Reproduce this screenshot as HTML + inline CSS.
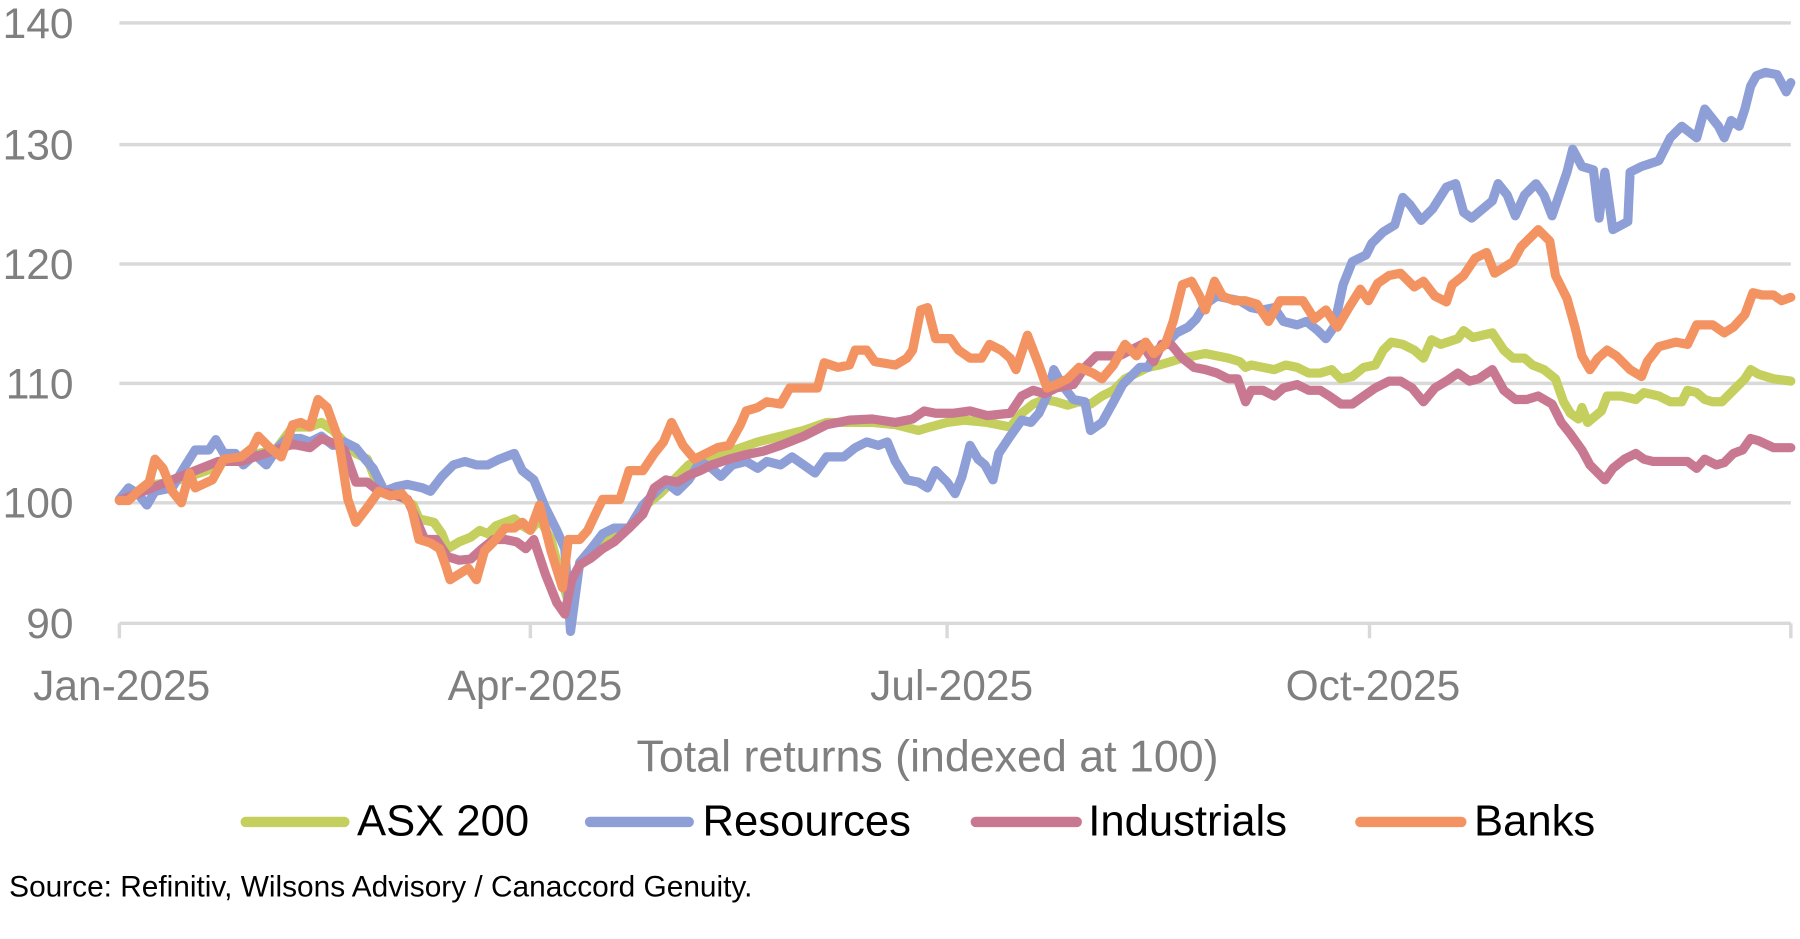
<!DOCTYPE html>
<html><head><meta charset="utf-8"><style>
html,body{margin:0;padding:0;background:#fff;}
svg{display:block;}
text{font-family:"Liberation Sans",sans-serif;}
</style></head><body>
<svg width="1800" height="939" viewBox="0 0 1568 818" preserveAspectRatio="none" xmlns="http://www.w3.org/2000/svg">
<g stroke="#d9d9d9" stroke-width="3">
<line x1="104" y1="20" x2="1560" y2="20"/>
<line x1="104" y1="126" x2="1560" y2="126"/>
<line x1="104" y1="230" x2="1560" y2="230"/>
<line x1="104" y1="334" x2="1560" y2="334"/>
<line x1="104" y1="438" x2="1560" y2="438"/>
<line x1="104" y1="543" x2="1560" y2="543"/>
<line x1="104" y1="543" x2="104" y2="556"/>
<line x1="462" y1="543" x2="462" y2="556"/>
<line x1="825" y1="543" x2="825" y2="556"/>
<line x1="1193" y1="543" x2="1193" y2="556"/>
<line x1="1560" y1="543" x2="1560" y2="556"/>
</g>
<g fill="#7f7f7f" font-size="37" text-anchor="end">
<text x="64" y="33">140</text>
<text x="64" y="139">130</text>
<text x="64" y="243">120</text>
<text x="64" y="347">110</text>
<text x="64" y="451">100</text>
<text x="64" y="556">90</text>
</g>
<g fill="#7f7f7f" font-size="37" text-anchor="middle">
<text x="106" y="610">Jan-2025</text>
<text x="466" y="610">Apr-2025</text>
<text x="829" y="610">Jul-2025</text>
<text x="1196" y="610">Oct-2025</text>
<text x="808" y="672" font-size="39">Total returns (indexed at 100)</text>
</g>
<g fill="none" stroke-width="8" stroke-linejoin="round" stroke-linecap="round">
<polyline stroke="#c4cf5e" points="104,436 120,428 135,422 150,420 165,415 180,410 195,400 210,400 225,395 240,392 255,372 270,372 280,368 290,375 300,385 310,395 320,400 330,425 345,430 360,440 365,452 378,455 385,465 390,478 400,472 410,468 418,462 425,465 432,458 440,455 448,452 455,458 462,462 470,452 480,470 490,508 497,530 505,492 515,480 525,470 535,468 548,460 560,442 575,430 585,420 600,405 610,400 625,396 640,392 660,385 680,380 700,375 720,368 740,368 760,368 780,370 800,375 810,372 825,368 840,366 860,368 880,372 890,360 900,352 910,348 920,350 930,353 940,350 950,352 960,345 970,340 980,330 990,325 1000,320 1010,318 1020,315 1030,312 1040,310 1050,308 1060,310 1070,312 1080,315 1085,320 1090,318 1100,320 1110,322 1120,318 1130,320 1140,325 1150,325 1160,322 1168,330 1178,328 1188,320 1198,318 1205,305 1212,298 1222,300 1232,305 1240,312 1247,296 1255,300 1270,295 1275,288 1283,294 1300,290 1310,305 1318,312 1328,312 1335,318 1345,322 1355,330 1362,350 1368,360 1375,365 1378,355 1383,368 1395,358 1400,345 1412,345 1425,348 1432,342 1445,345 1455,350 1465,350 1470,340 1478,342 1485,348 1492,350 1500,350 1510,340 1520,330 1525,322 1532,326 1545,330 1560,332"/>
<polyline stroke="#8e9ed6" points="104,435 112,425 120,430 128,440 135,428 150,425 160,408 170,392 182,392 188,383 195,395 205,395 212,405 222,396 232,405 242,390 250,382 262,382 270,385 280,380 290,388 300,385 310,390 318,400 325,408 335,428 345,424 355,422 368,425 375,428 385,415 395,405 405,402 415,405 425,405 435,400 448,395 455,410 465,418 475,442 485,462 492,478 497,550 505,490 515,478 525,465 535,460 548,460 560,440 570,430 580,420 590,428 600,418 610,402 620,408 628,415 638,405 650,402 660,408 668,402 680,405 690,398 700,405 710,412 720,398 735,398 745,390 755,385 765,388 773,385 780,402 790,418 800,420 808,425 815,410 825,420 832,430 838,415 845,388 852,400 858,405 865,418 870,395 880,380 890,366 898,368 905,360 912,345 918,322 925,335 935,348 945,350 950,375 960,368 970,350 978,335 985,328 993,320 1000,320 1008,305 1015,300 1025,290 1035,285 1042,278 1050,265 1060,258 1070,260 1080,262 1090,268 1100,270 1110,268 1118,280 1130,283 1138,280 1148,288 1155,295 1162,285 1170,248 1178,228 1190,222 1195,212 1205,202 1215,196 1222,172 1228,178 1238,192 1248,182 1260,163 1268,160 1275,185 1282,190 1300,175 1305,160 1313,170 1320,188 1328,170 1338,160 1345,170 1352,188 1365,150 1370,130 1378,145 1388,148 1393,190 1398,150 1405,200 1418,193 1420,150 1430,145 1445,140 1455,120 1465,110 1478,120 1485,95 1497,110 1502,120 1508,105 1515,110 1520,95 1525,75 1530,66 1538,63 1548,65 1556,80 1560,72"/>
<polyline stroke="#c97892" points="104,436 125,428 150,418 170,410 190,402 210,402 225,397 240,392 255,387 270,390 280,382 290,386 300,392 310,420 320,420 330,428 340,430 355,435 370,470 380,470 390,485 400,488 410,487 420,478 430,470 440,470 450,472 458,478 465,470 475,500 485,525 492,535 498,505 505,492 515,486 525,478 535,472 548,460 560,448 570,425 580,418 590,420 600,414 610,410 620,405 635,400 650,396 665,393 680,388 700,380 720,370 740,366 760,365 780,368 795,365 805,358 815,360 830,360 845,358 860,362 880,360 890,345 900,340 910,343 920,338 935,335 945,320 955,310 965,310 975,310 985,305 995,300 1005,315 1012,300 1020,300 1030,312 1040,320 1050,322 1060,325 1070,330 1078,330 1085,350 1090,340 1100,340 1110,345 1118,338 1130,335 1140,340 1150,340 1158,345 1168,352 1178,352 1188,345 1198,338 1210,332 1220,332 1230,338 1240,350 1250,338 1260,332 1270,325 1280,332 1288,330 1300,322 1310,340 1320,348 1330,348 1340,345 1352,352 1360,368 1368,378 1378,392 1385,405 1392,412 1398,418 1405,408 1415,400 1425,395 1432,400 1440,402 1450,402 1460,402 1470,402 1478,408 1485,400 1495,405 1502,403 1510,395 1518,392 1525,382 1532,384 1545,390 1560,390"/>
<polyline stroke="#f39362" points="104,436 112,436 120,428 130,420 135,400 142,408 150,428 158,438 165,412 170,425 185,418 195,400 210,398 220,390 225,380 235,390 245,398 255,370 262,368 270,372 277,348 285,355 295,383 303,435 310,455 320,442 330,428 340,432 350,430 358,440 365,470 375,473 383,478 388,492 392,505 400,500 408,495 415,505 422,480 430,472 440,460 448,460 455,455 462,462 470,440 480,480 490,512 495,470 505,470 512,462 520,445 525,435 540,435 548,410 560,410 570,395 578,385 585,368 595,388 605,400 615,395 625,390 635,388 645,370 650,358 660,355 668,350 680,352 688,338 700,338 712,338 718,316 730,320 740,318 745,305 755,305 762,315 780,318 790,312 795,305 802,270 808,268 815,295 828,295 835,305 845,312 855,312 862,300 872,305 880,312 885,322 895,292 905,318 912,338 920,335 930,330 940,320 952,325 960,330 970,318 980,300 990,310 998,298 1005,308 1015,300 1022,280 1030,248 1038,245 1045,258 1050,270 1058,245 1065,258 1075,262 1085,262 1095,265 1105,280 1115,262 1125,262 1135,262 1145,278 1155,270 1165,285 1175,268 1185,252 1192,262 1200,247 1210,240 1220,238 1232,250 1240,245 1250,258 1260,263 1265,248 1275,240 1285,225 1295,220 1302,238 1318,228 1325,215 1335,205 1340,200 1350,210 1355,240 1365,260 1372,285 1378,310 1385,322 1392,312 1400,305 1408,310 1420,322 1430,328 1435,315 1445,302 1460,298 1470,300 1478,283 1492,283 1502,290 1510,285 1520,274 1527,255 1535,257 1545,257 1552,262 1560,259"/>
</g>
<g stroke-width="9" stroke-linecap="round">
<line x1="214" y1="716" x2="300" y2="716" stroke="#c4cf5e"/>
<line x1="514" y1="716" x2="600" y2="716" stroke="#8e9ed6"/>
<line x1="850" y1="716" x2="938" y2="716" stroke="#c97892"/>
<line x1="1185" y1="716" x2="1273" y2="716" stroke="#f39362"/>
</g>
<g fill="#000" font-size="38">
<text x="311" y="728">ASX 200</text>
<text x="612" y="728">Resources</text>
<text x="948" y="728">Industrials</text>
<text x="1284" y="728">Banks</text>
</g>
<text x="8" y="781" font-size="26" fill="#000">Source: Refinitiv, Wilsons Advisory / Canaccord Genuity.</text>
</svg>
</body></html>
